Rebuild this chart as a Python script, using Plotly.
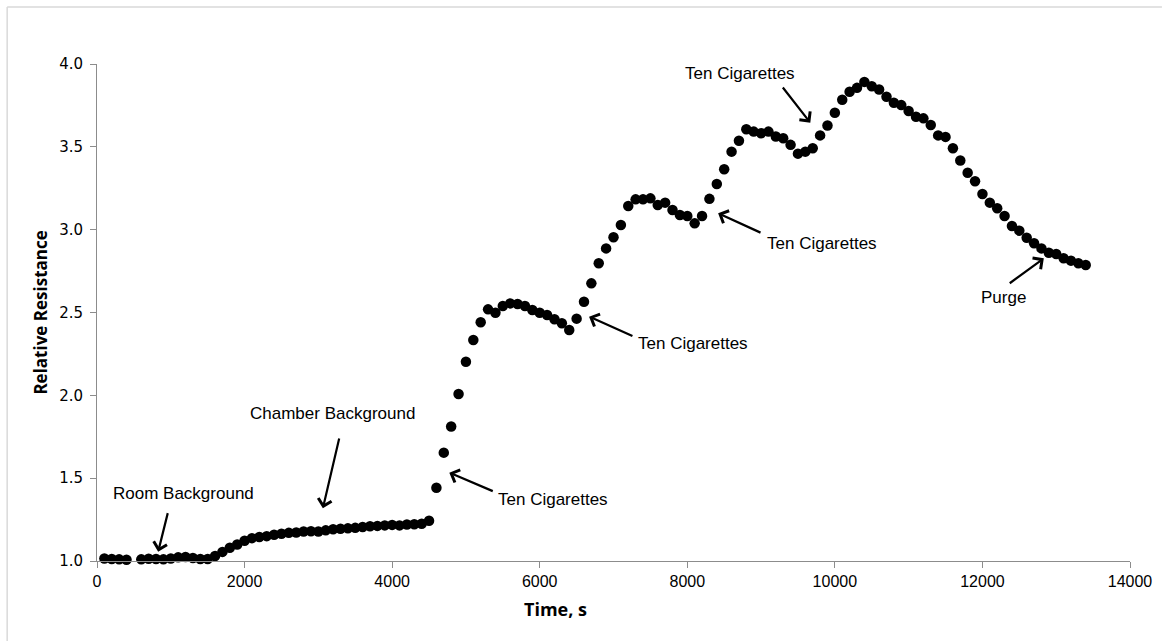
import plotly.graph_objects as go

# Sensor response: time (s) and relative resistance readings
time_s = [
    100, 200, 300, 400,
    600, 700, 800, 900, 1000, 1100, 1200, 1300, 1400, 1500,
    1600, 1700, 1800, 1900, 2000, 2100, 2200, 2300, 2400, 2500,
    2600, 2700, 2800, 2900, 3000, 3100, 3200, 3300, 3400, 3500,
    3600, 3700, 3800, 3900, 4000, 4100, 4200, 4300, 4400, 4500,
    4600, 4700, 4800, 4900, 5000, 5100, 5200, 5300, 5400, 5500,
    5600, 5700, 5800, 5900, 6000, 6100, 6200, 6300, 6400, 6500,
    6600, 6700, 6800, 6900, 7000, 7100, 7200, 7300, 7400, 7500,
    7600, 7700, 7800, 7900, 8000, 8100, 8200, 8300, 8400, 8500,
    8600, 8700, 8800, 8900, 9000, 9100, 9200, 9300, 9400, 9500,
    9600, 9700, 9800, 9900, 10000, 10100, 10200, 10300, 10400, 10500,
    10600, 10700, 10800, 10900, 11000, 11100, 11200, 11300, 11400, 11500,
    11600, 11700, 11800, 11900, 12000, 12100, 12200, 12300, 12400, 12500,
    12600, 12700, 12800, 12900, 13000, 13100, 13200, 13300, 13400,
]
relative_resistance = [
    1.015, 1.012, 1.010, 1.008,
    1.010, 1.014, 1.012, 1.010, 1.015, 1.022, 1.024, 1.018, 1.012, 1.012,
    1.030, 1.055, 1.080, 1.100, 1.122, 1.138, 1.145, 1.150, 1.158, 1.165,
    1.170, 1.172, 1.178, 1.180, 1.178, 1.185, 1.192, 1.195, 1.197, 1.200,
    1.205, 1.210, 1.212, 1.215, 1.218, 1.215, 1.220, 1.222, 1.225, 1.243,
    1.442, 1.654, 1.812, 2.008, 2.203, 2.334, 2.441, 2.519, 2.499, 2.539,
    2.555, 2.551, 2.539, 2.515, 2.499, 2.485, 2.459, 2.435, 2.394, 2.463,
    2.565, 2.676, 2.797, 2.887, 2.954, 3.028, 3.143, 3.183, 3.183, 3.189,
    3.149, 3.163, 3.119, 3.089, 3.082, 3.038, 3.082, 3.186, 3.276, 3.365,
    3.471, 3.537, 3.606, 3.592, 3.582, 3.592, 3.562, 3.552, 3.512, 3.459,
    3.471, 3.491, 3.569, 3.629, 3.706, 3.784, 3.832, 3.856, 3.892, 3.866,
    3.846, 3.802, 3.766, 3.752, 3.716, 3.682, 3.672, 3.632, 3.569, 3.560,
    3.491, 3.418, 3.344, 3.292, 3.215, 3.163, 3.129, 3.082, 3.022, 2.994,
    2.951, 2.918, 2.887, 2.861, 2.853, 2.827, 2.813, 2.797, 2.787,
]

# Event labels: text, text position (x, y), arrow tail (x, y), arrow tip (x, y)
event_text = ["Room Background", "Chamber Background", "Ten Cigarettes",
              "Ten Cigarettes", "Ten Cigarettes", "Ten Cigarettes", "Purge"]
text_pos = [(1170, 1.410), (3190, 1.890), (6180, 1.370),
            (8080, 2.315), (9830, 2.915), (8710, 3.945), (12280, 2.590)]
arrow_tail = [(964, 1.298), (3287, 1.748), (5384, 1.418),
              (7277, 2.354), (9013, 2.978), (9279, 3.867), (12350, 2.670)]
arrow_tip = [(829, 1.056), (3061, 1.318), (4775, 1.533),
             (6669, 2.475), (8418, 3.099), (9667, 3.646), (12832, 2.827)]

x_ticks = [0, 2000, 4000, 6000, 8000, 10000, 12000, 14000]
y_ticks = [1.0, 1.5, 2.0, 2.5, 3.0, 3.5, 4.0]

fig = go.Figure()
fig.add_trace(go.Scatter(
    x=time_s, y=relative_resistance, mode="markers",
    marker=dict(color="black", size=10.5, line=dict(width=0)),
    showlegend=False, cliponaxis=False,
))

annotations = []
for (ax, ay), (hx, hy) in zip(arrow_tail, arrow_tip):
    annotations.append(dict(
        x=hx, y=hy, ax=ax, ay=ay, xref="x", yref="y", axref="x", ayref="y",
        text="", showarrow=True, arrowhead=4, arrowsize=1.2, arrowwidth=2.2,
        arrowcolor="black", standoff=0, startstandoff=0,
    ))
for label, (tx, ty) in zip(event_text, text_pos):
    annotations.append(dict(
        x=tx, y=ty, xref="x", yref="y", text=label, showarrow=False,
        font=dict(family="Liberation Sans, Arial", size=17, color="black"),
        xanchor="center", yanchor="middle",
    ))

# Axis titles
annotations.append(dict(
    x=(556 - 97) / 1035, y=-0.097, xref="paper", yref="paper",
    text="<b>Time, s</b>", showarrow=False,
    font=dict(family="Open Sans", size=18, color="black"),
    xanchor="center", yanchor="middle",
))
annotations.append(dict(
    x=-(97 - 40) / 1035, y=0.5, xref="paper", yref="paper",
    text="<b>Relative Resistance</b>", showarrow=False, textangle=-90,
    font=dict(family="Open Sans", size=17, color="black"),
    xanchor="center", yanchor="middle",
))

# Light outer frame (left and top edges)
frame = [
    dict(type="line", xref="paper", yref="paper",
         x0=-(97 - 7) / 1035, x1=-(97 - 7) / 1035,
         y0=(561 - 641) / 497, y1=(561 - 7) / 497,
         line=dict(color="#d9d9d9", width=1.5)),
    dict(type="line", xref="paper", yref="paper",
         x0=-(97 - 7) / 1035, x1=(1164 - 97) / 1035,
         y0=(561 - 7) / 497, y1=(561 - 7) / 497,
         line=dict(color="#d9d9d9", width=1.5)),
]

fig.update_layout(
    width=1164, height=641,
    margin=dict(l=97, r=32, t=64, b=80),
    paper_bgcolor="white", plot_bgcolor="white",
    annotations=annotations, shapes=frame,
    xaxis=dict(
        range=[0, 14000], tickvals=x_ticks, ticktext=[str(v) for v in x_ticks],
        showgrid=False, zeroline=False, showline=True, linecolor="#8c8c8c",
        linewidth=1, ticks="outside", ticklen=6, tickcolor="#8c8c8c",
        tickfont=dict(family="Liberation Sans, Arial", size=16, color="black"),
    ),
    yaxis=dict(
        range=[1.0, 4.0], tickvals=y_ticks, ticktext=[f"{v:.1f}" for v in y_ticks],
        showgrid=False, zeroline=False, showline=True, linecolor="#8c8c8c",
        linewidth=1, ticks="outside", ticklen=6, tickcolor="#8c8c8c",
        ticklabelstandoff=4,
        tickfont=dict(family="DejaVu Sans", size=15, color="black"),
    ),
)

fig.write_html("out.html")
